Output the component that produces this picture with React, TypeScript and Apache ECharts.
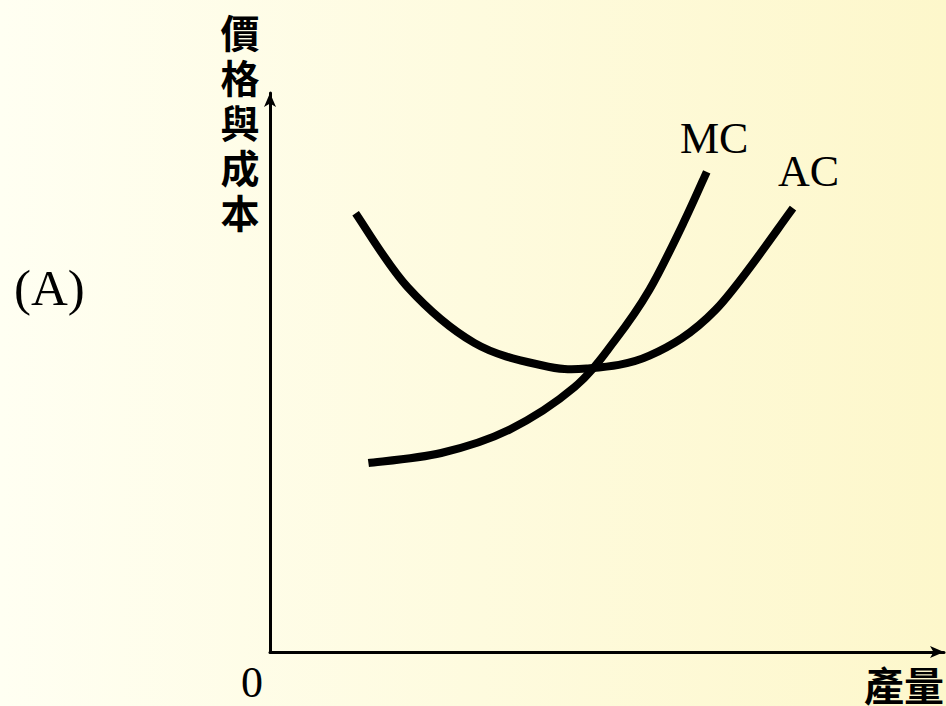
import React, { useEffect, useRef } from "react";
import * as echarts from "echarts";

const acX = [12.7, 20.4, 30.3, 40.3, 47.0, 56.3, 66.1, 77.6];
const acY = [78.5, 65.3, 55.3, 51.3, 50.7, 53.0, 61.2, 79.4];
const mcX = [14.6, 25.4, 35.4, 45.2, 51.2, 56.3, 61.2, 64.8];
const mcY = [33.8, 35.6, 39.7, 47.4, 55.8, 64.8, 76.4, 85.9];
const seriesNames = ["AC", "MC"];
const yTitle = "價格與成本";
const xTitle = "產量";
const originLabel = "0";
const panelLabel = "(A)";

const serif = "'Liberation Serif', 'Times New Roman', serif";
const cjk = "'Noto Sans CJK TC', 'Noto Sans CJK SC', sans-serif";

function smoothPath(pts: number[][]): string {
  let d = `M${pts[0][0]},${pts[0][1]}`;
  for (let i = 0; i < pts.length - 1; i++) {
    const p0 = pts[i - 1] || pts[i];
    const p1 = pts[i];
    const p2 = pts[i + 1];
    const p3 = pts[i + 2] || p2;
    const c1x = p1[0] + (p2[0] - p0[0]) / 6;
    const c1y = p1[1] + (p2[1] - p0[1]) / 6;
    const c2x = p2[0] - (p3[0] - p1[0]) / 6;
    const c2y = p2[1] - (p3[1] - p1[1]) / 6;
    d += ` C${c1x},${c1y} ${c2x},${c2y} ${p2[0]},${p2[1]}`;
  }
  return d;
}

export default function App() {
  const ref = useRef<HTMLDivElement>(null);
  useEffect(() => {
    document.body.style.margin = "0";
    const chart = echarts.init(ref.current!, null, { renderer: "svg" });
    const axisCommon = {
      type: "value",
      min: 0,
      max: 100,
      axisLine: {
        show: true,
        symbol: ["none", "arrow"],
        symbolSize: [9, 14],
        lineStyle: { color: "#000", width: 3 },
      },
      axisTick: { show: false },
      axisLabel: { show: false },
      splitLine: { show: false },
    };
    const curveSeries = (name: string, xs: number[], ys: number[]) => ({
      name,
      type: "custom",
      coordinateSystem: "cartesian2d",
      data: xs.map((x, i) => [x, ys[i]]),
      encode: { x: 0, y: 1 },
      renderItem: (params: any, api: any) => {
        if (params.dataIndex !== 0) return null;
        const pts = xs.map((x, i) => api.coord([x, ys[i]]));
        return {
          type: "path",
          shape: { pathData: smoothPath(pts) },
          style: { stroke: "#000", lineWidth: 8, fill: "none", lineCap: "butt" },
        };
      },
    });
    const titleChars = yTitle.split("").map((ch, i) => ({
      type: "text",
      x: 240,
      y: 11 + i * 45,
      style: {
        text: ch,
        font: `bold 39px ${cjk}`,
        lineHeight: 40,
        fill: "#000",
        align: "center",
        verticalAlign: "top",
      },
    }));
    chart.setOption({
      animation: false,
      backgroundColor: new echarts.graphic.LinearGradient(0, 0, 1, 0, [
        { offset: 0, color: "#FFFFF2" },
        { offset: 1, color: "#FDF7CB" },
      ]),
      grid: { left: 270, top: 93, right: 2, bottom: 54 },
      xAxis: axisCommon,
      yAxis: axisCommon,
      series: [
        curveSeries(seriesNames[0], acX, acY),
        curveSeries(seriesNames[1], mcX, mcY),
      ],
      graphic: [
        ...titleChars,
        {
          type: "text",
          x: 944,
          y: 704,
          style: {
            text: xTitle,
            font: `bold 40px ${cjk}`,
            lineHeight: 40,
            fill: "#000",
            align: "right",
            verticalAlign: "bottom",
          },
        },
        {
          type: "text",
          x: 252,
          y: 660,
          style: {
            text: originLabel,
            font: `44px ${serif}`,
            fill: "#000",
            align: "center",
            verticalAlign: "top",
          },
        },
        {
          type: "text",
          x: 14,
          y: 262,
          style: {
            text: panelLabel,
            font: `51px ${serif}`,
            fill: "#000",
            align: "left",
            verticalAlign: "top",
          },
        },
        {
          type: "text",
          x: 680,
          y: 116,
          style: {
            text: seriesNames[1],
            font: `44px ${serif}`,
            fill: "#000",
            align: "left",
            verticalAlign: "top",
          },
        },
        {
          type: "text",
          x: 778,
          y: 149,
          style: {
            text: seriesNames[0],
            font: `44px ${serif}`,
            fill: "#000",
            align: "left",
            verticalAlign: "top",
          },
        },
      ],
    });
    return () => chart.dispose();
  }, []);
  return <div ref={ref} style={{ width: 946, height: 706 }} />;
}
